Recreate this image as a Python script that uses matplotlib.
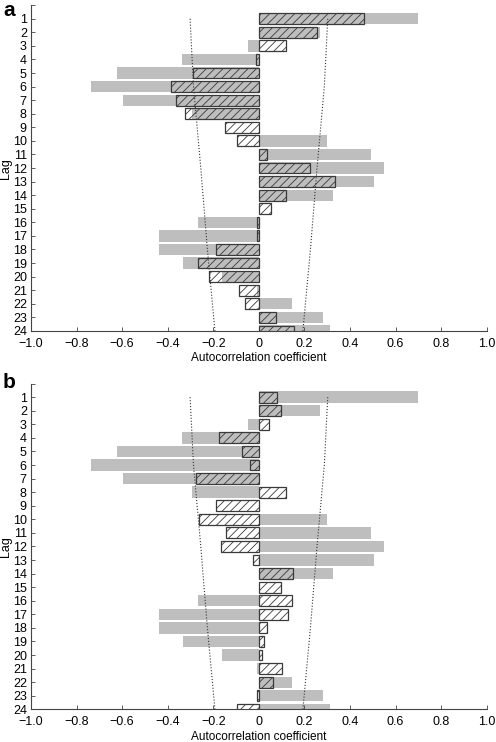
import numpy as np
import matplotlib
matplotlib.use("Agg")
import matplotlib.pyplot as plt

plt.rcParams['font.family'] = ['Liberation Sans', 'DejaVu Sans']
plt.rcParams['hatch.linewidth'] = 0.6

# 滞后阶数
lags = np.arange(1, 25)

# 灰色条：原序列自相关（两个面板相同）
acf_gray = [0.70, 0.27, -0.047, -0.338, -0.621, -0.737, -0.596, -0.295, 0.0, 0.297,
            0.491, 0.55, 0.504, 0.325, 0.0, -0.268, -0.44, -0.44, -0.333, -0.162,
            -0.01, 0.145, 0.281, 0.31]

# 斜线条：面板 a / 面板 b
acf_a = [0.461, 0.253, 0.121, -0.013, -0.288, -0.385, -0.363, -0.325, -0.148, -0.096,
         0.034, 0.222, 0.336, 0.121, 0.054, -0.01, -0.01, -0.187, -0.266, -0.218,
         -0.089, -0.06, 0.076, 0.152]
acf_b = [0.078, 0.095, 0.045, -0.175, -0.073, -0.039, -0.275, 0.121, -0.187, -0.262,
         -0.143, -0.165, -0.024, 0.15, 0.095, 0.145, 0.129, 0.034, 0.023, 0.015,
         0.101, 0.064, -0.007, -0.096]

# 置信界（虚线）
band_lags = [1, 6, 12, 18, 24]
band_vals = [0.302, 0.287, 0.255, 0.226, 0.193]

xticks = [-1.0, -0.8, -0.6, -0.4, -0.2, 0, 0.2, 0.4, 0.6, 0.8, 1.0]
xticklabels = ['\u22121.0', '\u22120.8', '\u22120.6', '\u22120.4', '\u22120.2', '0',
               '0.2', '0.4', '0.6', '0.8', '1.0']

fig = plt.figure(figsize=(4.96, 7.42), dpi=100)
axes = [fig.add_axes([0.0625, 0.554, 0.919, 0.439]),
        fig.add_axes([0.0625, 0.044, 0.919, 0.439])]

for ax, vals, tag in zip(axes, [acf_a, acf_b], ['a', 'b']):
    ax.barh(lags, acf_gray, height=0.84, color='#bebebe', edgecolor='none', zorder=1)
    ax.barh(lags, vals, height=0.8, facecolor='none', edgecolor='#3a3a3a',
            linewidth=0.9, hatch='////', zorder=2)
    bv = np.array(band_vals)
    ax.plot(-bv, band_lags, ':', color='#333333', linewidth=0.8, zorder=3)
    ax.plot(bv, band_lags, ':', color='#333333', linewidth=0.8, zorder=3)

    ax.set_xlim(-1.0, 1.0)
    ax.set_ylim(24, 0)
    ax.set_xticks(xticks)
    ax.set_xticklabels(xticklabels)
    ax.set_yticks(range(0, 25))
    ax.set_yticklabels([''] + [str(i) for i in lags])
    ax.tick_params(direction='in', length=3, width=0.6, color='#444444',
                   labelsize=9, labelcolor='black')
    ax.tick_params(axis='y', pad=3)
    ax.tick_params(axis='x', pad=5)
    for s in ['top', 'right']:
        ax.spines[s].set_visible(False)
    for s in ['left', 'bottom']:
        ax.spines[s].set_linewidth(0.8)
        ax.spines[s].set_color('#444444')
    ax.set_xlabel('Autocorrelation coefficient', fontsize=8.5, va='top')
    ax.xaxis.set_label_coords(0.5, -0.066)
    ax.set_ylabel('Lag', fontsize=9, va='center')
    ax.yaxis.set_label_coords(-0.054, 0.5)

fig.text(0.006, 0.998, 'a', fontsize=15, fontweight='bold', va='top', ha='left')
fig.text(0.006, 0.497, 'b', fontsize=15, fontweight='bold', va='top', ha='left')

fig.savefig('out.png', dpi=100)
